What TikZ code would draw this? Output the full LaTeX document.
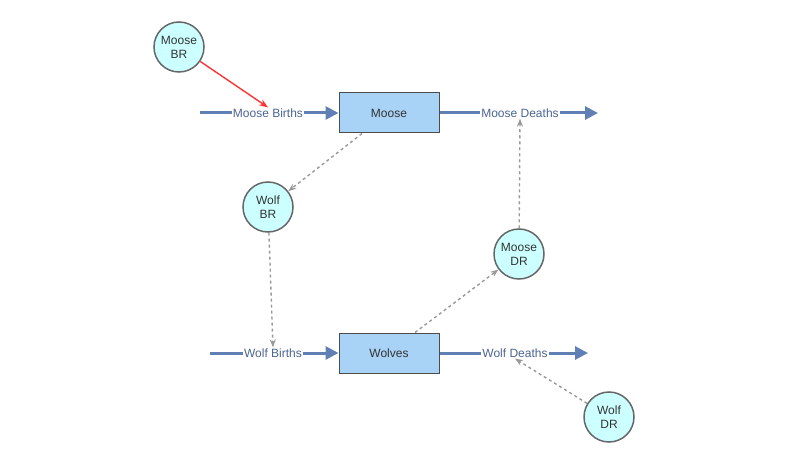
\documentclass[tikz,border=0pt]{standalone}
\usepackage{fontspec}
\setmainfont{Liberation Sans}
\usetikzlibrary{arrows.meta}
\definecolor{flowc}{HTML}{5F7FB5}
\definecolor{stockc}{HTML}{A8D2F6}
\definecolor{auxc}{HTML}{CCFFFF}
\begin{document}
\begin{tikzpicture}[x=1pt,y=1pt,
 stock/.style={draw=black!70,line width=1pt,fill=stockc,minimum width=100pt,minimum height=40pt,font=\fontsize{12}{14}\selectfont,text=black!80},
 aux/.style={circle,draw=black!60,line width=1.5pt,fill=auxc,minimum size=50pt,inner sep=0pt,align=center,font=\fontsize{12}{14}\selectfont,text=black!80,text width=40pt},
 flow/.style={line width=3pt,draw=flowc,-{Triangle[length=13pt,width=13pt]}},
 flab/.style={fill=white,inner sep=1pt,font=\fontsize{12}{14}\selectfont,text=flowc!80!black},
 link/.style={dashed,line width=1.4pt,draw=black!40,-{Stealth[length=8pt]}}]
\useasboundingbox (0,0) rectangle (800,461);
\node[stock] (moose) at (389,348) {Moose};
\node[stock] (wolves) at (389,108) {Wolves};
\coordinate (mbs) at (200,348);
\coordinate (mde) at (598,348);
\coordinate (wbs) at (210,108);
\coordinate (wde) at (588,108);
\draw[flow] (mbs) -- (moose.west);
\draw[flow] (moose.east) -- (mde);
\draw[flow] (wbs) -- (wolves.west);
\draw[flow] (wolves.east) -- (wde);
\node[flab] (mb) at (268,348) {Moose Births};
\node[flab] (md) at (520,348) {Moose Deaths};
\node[flab] (wb) at (273,108) {Wolf Births};
\node[flab] (wd) at (515,108) {Wolf Deaths};
\node[aux] (mbr) at (179,414) {Moose\\BR};
\node[aux] (wbr) at (268,254) {Wolf\\BR};
\node[aux] (mdr) at (519,207) {Moose\\DR};
\node[aux] (wdr) at (609,44) {Wolf\\DR};
\draw[line width=1.4pt,red!80,-{Stealth[length=9pt]}] (mbr) -- (mb.north);
\draw[link] ([xshift=-27pt]moose.south) -- (wbr);
\draw[link] (wbr) -- (wb.north);
\draw[link] (mdr) -- (md.south);
\draw[link] ([xshift=26pt]wolves.north) -- (mdr);
\draw[link] (wdr) -- (wd.south);
\end{tikzpicture}
\end{document}
